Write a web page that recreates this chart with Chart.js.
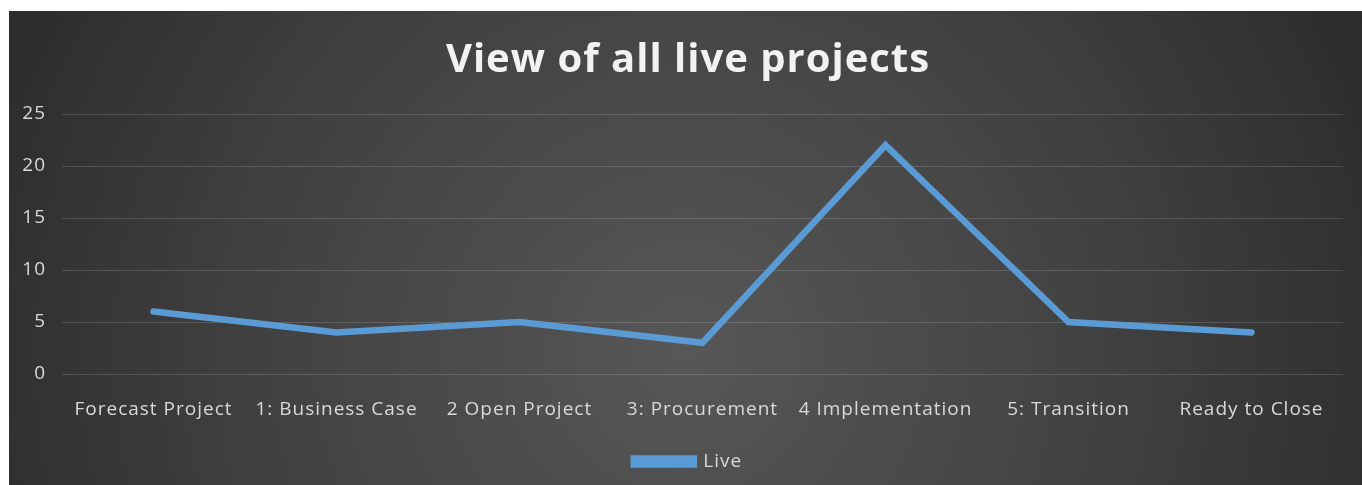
<!DOCTYPE html>
<html>
<head>
<meta charset="utf-8">
<script src="https://cdn.jsdelivr.net/npm/chart.js@4"></script>
<style>
  html, body { margin: 0; padding: 0; background: #ffffff; }
  #wrap { position: absolute; left: 9px; top: 11px; width: 1353px; height: 474px; }
</style>
</head>
<body>
<div id="wrap"><canvas id="c"></canvas></div>
<script>
// Project stages and the number of live projects in each
const categories = ['Forecast Project', '1: Business Case', '2 Open Project', '3: Procurement', '4 Implementation', '5: Transition', 'Ready to Close'];
const liveCounts = [6, 4, 5, 3, 22, 5, 4];
const yTicks = [0, 5, 10, 15, 20, 25];

const FONT = "'Open Sans', 'Noto Sans', sans-serif";

// Dark radial backdrop behind the whole chart, plus slightly tracked text
const backdrop = {
  id: 'backdrop',
  beforeUpdate(chart) { chart.ctx.letterSpacing = '1px'; },
  // let the value labels use the left margin as well
  afterLayout(chart) { chart.scales.y.left = 0; },
  beforeDraw(chart) {
    const { ctx, width, height } = chart;
    ctx.letterSpacing = '1px';
    const cx = width * 0.5, cy = height * 0.72;
    const g = ctx.createRadialGradient(cx, cy, 0, cx, cy, width * 0.62);
    g.addColorStop(0, '#575757');
    g.addColorStop(0.55, '#3f3f3f');
    g.addColorStop(1, '#262626');
    ctx.save();
    ctx.fillStyle = g;
    ctx.fillRect(0, 0, width, height);
    ctx.restore();
  }
};

new Chart(document.getElementById('c'), {
  type: 'line',
  data: {
    labels: categories,
    datasets: [{
      label: 'Live',
      data: liveCounts,
      borderColor: '#5b9bd5',
      backgroundColor: '#5b9bd5',
      borderWidth: 6.5,
      borderCapStyle: 'round',
      borderJoinStyle: 'miter',
      pointRadius: 0,
      pointHoverRadius: 0,
      tension: 0
    }]
  },
  options: {
    responsive: true,
    maintainAspectRatio: false,
    animation: false,
    layout: { padding: { left: 24, right: 19, top: 0, bottom: 4 } },
    plugins: {
      title: {
        display: true,
        text: 'View of all live projects',
        color: '#f2f2f2',
        font: { family: FONT, size: 40, weight: 'bold' },
        padding: { top: 26, bottom: 29 }
      },
      legend: {
        position: 'bottom',
        labels: {
          color: '#d9d9d9',
          font: { family: FONT, size: 19 },
          boxWidth: 60,
          boxHeight: 6,
          padding: 12
        }
      },
      tooltip: { enabled: false }
    },
    scales: {
      x: {
        offset: true,
        grid: { display: false },
        border: { display: false },
        afterFit(scale) { scale.height = 66; },
        ticks: {
          color: '#d9d9d9',
          font: { family: FONT, size: 19 },
          maxRotation: 0,
          autoSkip: false,
          padding: 16
        }
      },
      y: {
        min: 0,
        max: 25,
        afterBuildTicks(scale) { scale.ticks = yTicks.map(v => ({ value: v })); },
        afterFit(scale) { scale.width = 29; },
        grid: { color: 'rgba(255,255,255,0.15)', lineWidth: 1, drawTicks: false },
        border: { display: false },
        ticks: {
          color: '#d9d9d9',
          font: { family: FONT, size: 19 },
          padding: 16
        }
      }
    }
  },
  plugins: [backdrop]
});
</script>
</body>
</html>
